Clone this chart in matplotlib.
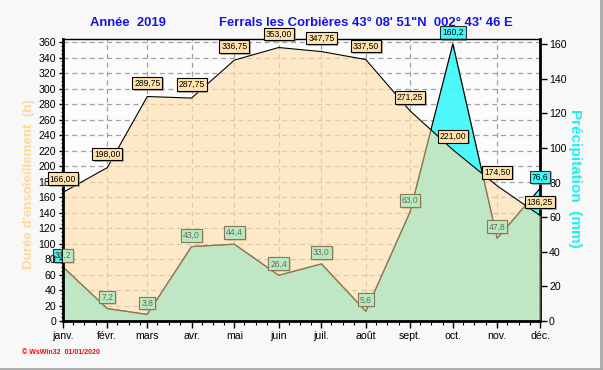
import matplotlib
matplotlib.use('Agg')
import matplotlib.pyplot as plt
import matplotlib.dates as mdates
import matplotlib.patheffects as pe
from matplotlib.lines import Line2D
import numpy as np
import pandas as pd

# monthly values, Ferrals les Corbieres 2019
months = ['janv.', 'févr.', 'mars', 'avr.', 'mai', 'juin',
          'juil.', 'août', 'sept.', 'oct.', 'nov.', 'déc.']
month_dates = pd.date_range('2019-01-01', periods=12, freq='MS')
sunshine_h = [166.00, 198.00, 289.75, 287.75, 336.75, 353.00,
              347.75, 337.50, 271.25, 221.00, 174.50, 136.25]
rain_mm = [31.2, 7.2, 3.8, 43.0, 44.4, 26.4, 33.0, 5.6, 63.0, 160.2, 47.8, 76.6]


def fr(v, nd):
    return f"{v:.{nd}f}".replace('.', ',')


plt.rcParams['font.family'] = ['Liberation Sans', 'DejaVu Sans']

fig = plt.figure(figsize=(6.03, 3.70), dpi=100, facecolor='#f8f8f8')
rect = [63 / 603, 1 - 321 / 370, 477 / 603, 282 / 370]

# background + grid
axg = fig.add_axes(rect, facecolor='#fcfcfc')
axg.set_zorder(0)
axg.set_xlim(month_dates[0], month_dates[-1])
axg.set_ylim(0, 364)
axg.set_xticks(month_dates)
axg.set_yticks(np.arange(0, 361, 20))
axg.grid(True, color='#a0a0a0', linestyle=(0, (4, 3)), linewidth=0.9)
axg.tick_params(length=0, labelleft=False, labelbottom=False)
for s in axg.spines.values():
    s.set_visible(False)

# precipitation (right axis), below
ax2 = fig.add_axes(rect, sharex=axg)
ax2.set_zorder(1)
ax2.patch.set_visible(False)
ax2.fill_between(month_dates, rain_mm, color='#40f8f8', alpha=0.93, lw=0)
ax2.plot(month_dates, rain_mm, color='black', lw=0.9)
ax2.set_ylim(0, 163)
ax2.yaxis.tick_right()
ax2.set_yticks(np.arange(0, 161, 20))
ax2.tick_params(axis='y', direction='out', length=5, width=1, labelsize=7.6, pad=1.5)
ax2.tick_params(axis='x', length=0, labelbottom=False)
for k in ['left', 'top', 'bottom']:
    ax2.spines[k].set_visible(False)
ax2.spines['right'].set_linewidth(2)

shadow = [pe.withSimplePatchShadow(offset=(1.3, -1.3), shadow_rgbFace='#808080', alpha=0.6)]
lab_kw = dict(xytext=(0, 5), textcoords='offset points', ha='center', va='bottom',
              fontsize=6.2, annotation_clip=False)
rain_x = mdates.date2num(month_dates)

for x, v in zip(rain_x, rain_mm):
    t = ax2.annotate(fr(v, 1), (x, v), color='black', clip_on=False,
                     bbox=dict(boxstyle='square,pad=0.22', fc='#40f8f8', ec='#303030', lw=0.8),
                     **lab_kw)
    t.get_bbox_patch().set_path_effects(shadow)

# sunshine (left axis), on top, semi transparent
ax = fig.add_axes(rect, sharex=axg)
ax.set_zorder(2)
ax.patch.set_visible(False)
ax.set_ylim(0, 364)
sun_fill = ax.fill_between(month_dates, sunshine_h, color='#fedfac', alpha=0.65, lw=0)
sun_path = sun_fill.get_paths()[0]

# rain marks seen through the sunshine area
rain_line = ax.plot(rain_x, rain_mm, color='#8a7856', lw=0.9, transform=ax2.transData)[0]
rain_line.set_clip_path(sun_path, ax.transData)
for x, v, s in zip(rain_x, rain_mm, sunshine_h):
    # only labels whose point lies under the sunshine curve get the tinted copy
    if ax2.transData.transform((x, v))[1] > ax.transData.transform((x, s))[1]:
        continue
    t = ax.annotate(fr(v, 1), (x, v), xycoords=ax2.transData, color='#6e6a52',
                    bbox=dict(boxstyle='square,pad=0.22', fc='#b9e9c4', ec='#8a7856', lw=0.8),
                    **lab_kw)
    t.set_clip_path(sun_path, ax.transData)
    t.get_bbox_patch().set_clip_path(sun_path, ax.transData)

ax.plot(month_dates, sunshine_h, color='black', lw=0.8)
ax.set_yticks(np.arange(0, 361, 20))
ax.yaxis.set_minor_locator(matplotlib.ticker.MultipleLocator(5))
ax.tick_params(axis='y', which='major', direction='out', length=3, width=1, labelsize=7.6, pad=2)
ax.tick_params(axis='y', which='minor', direction='out', length=1.5, width=0.8)
ax.set_xticks(month_dates)
ax.set_xticklabels(months)
ax.xaxis.set_minor_locator(mdates.DayLocator(bymonthday=[8, 16, 24]))
ax.tick_params(axis='x', which='major', direction='out', length=5, width=1, labelsize=7.6, pad=2)
ax.tick_params(axis='x', which='minor', direction='out', length=3, width=0.8)
ax.spines['left'].set_linewidth(2)
ax.spines['bottom'].set_linewidth(2)
ax.spines['top'].set_linewidth(1)
ax.spines['right'].set_visible(False)

for d, v in zip(month_dates, sunshine_h):
    t = ax.annotate(fr(v, 2), (d, v), xytext=(0, 6.5), textcoords='offset points',
                    ha='center', va='bottom', fontsize=6.2, color='black',
                    bbox=dict(boxstyle='square,pad=0.22', fc='#ffe2ac', ec='black', lw=0.8),
                    annotation_clip=False, clip_on=False)
    t.get_bbox_patch().set_path_effects(shadow)

# titles and axis labels
fig.text(90 / 603, 1 - 23 / 370, 'Année  2019', color='#1414e6', fontsize=9.4,
         fontweight='bold', ha='left', va='center')
fig.text(219 / 603, 1 - 23 / 370, 'Ferrals les Corbières 43° 08\' 51"N  002° 43\' 46 E',
         color='#1414e6', fontsize=9.4, fontweight='bold', ha='left', va='center')
fig.text(29 / 603, 1 - 184 / 370, "Durée d'ensoleillement  (h)", color='#ffd894',
         fontsize=9.6, fontweight='bold', rotation=90, ha='center', va='center')
fig.text(575 / 603, 1 - 178 / 370, 'Précipitation  (mm)', color='#1eeff0',
         fontsize=11, fontweight='bold', rotation=270, ha='center', va='center')
fig.text(22 / 603, 1 - 352 / 370, '© WsWin32  01/01/2020', color='red',
         fontsize=5, fontweight='bold', ha='left', va='center')

# window frame
fig.add_artist(Line2D([0, 1], [0.004, 0.004], color='#a8a8a8', lw=2, transform=fig.transFigure))
fig.add_artist(Line2D([0.9975, 0.9975], [0, 1], color='#a8a8a8', lw=2, transform=fig.transFigure))

fig.savefig('out.png', dpi=100, facecolor=fig.get_facecolor())
